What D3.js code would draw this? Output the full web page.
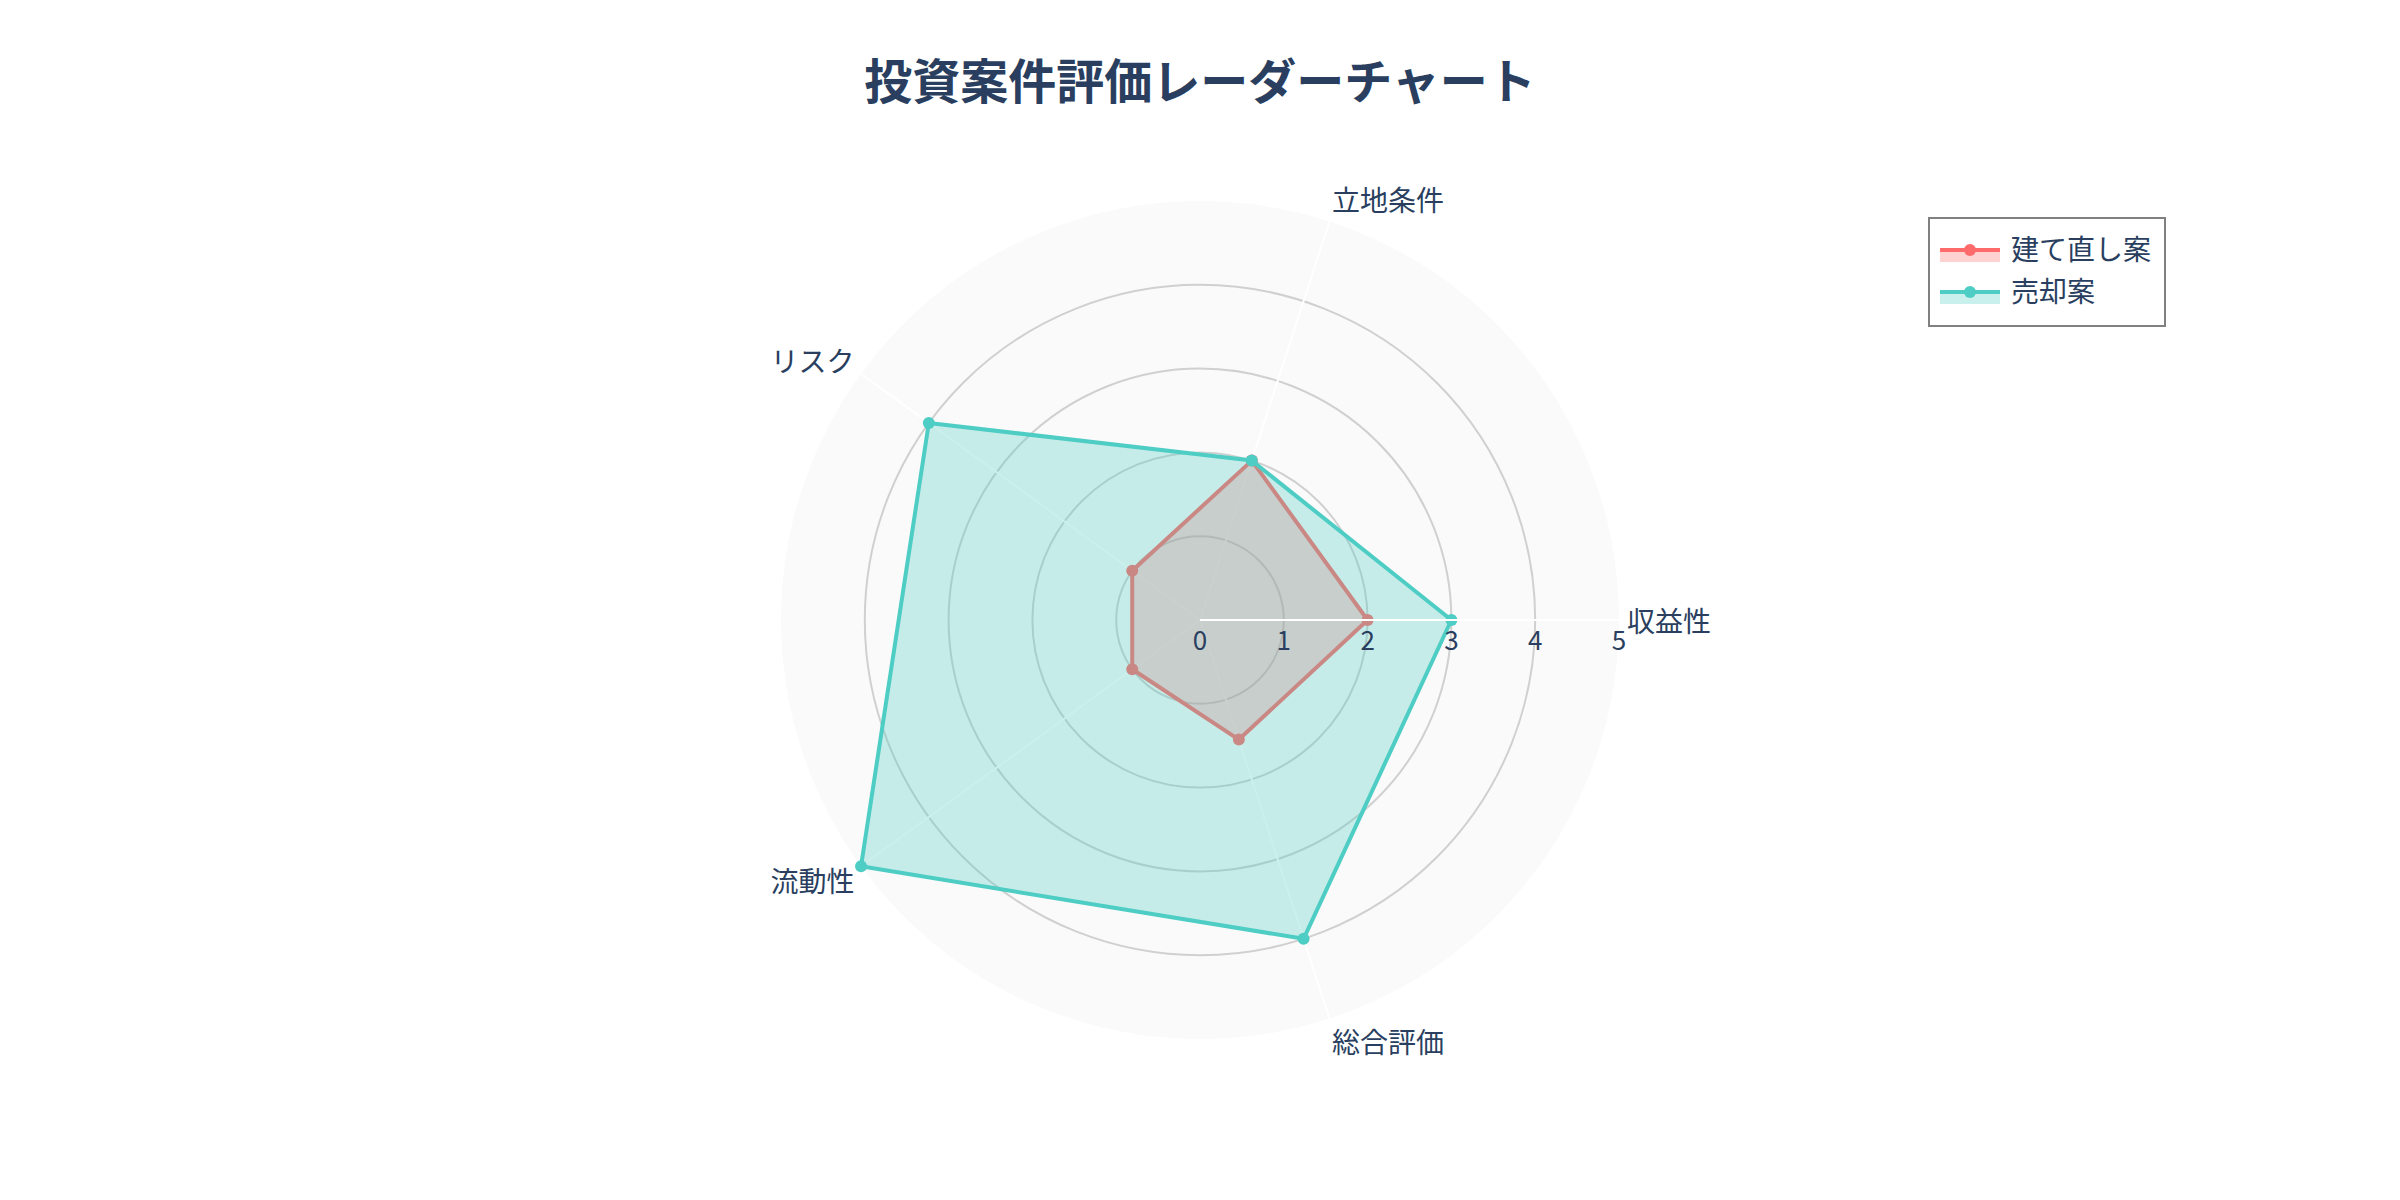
<!DOCTYPE html>
<html>
<head>
<meta charset="utf-8">
<script src="https://cdn.jsdelivr.net/npm/d3@7"></script>
<style>
  body { margin: 0; background: #fff; }
  text { font-family: "Noto Sans CJK JP", "Noto Sans", sans-serif; fill: #2a3f5f; }
</style>
</head>
<body>
<svg id="chart" width="2400" height="1200"></svg>
<script>
// categories round the circle, counterclockwise from the right
var categories = ["収益性", "立地条件", "リスク", "流動性", "総合評価"];
var rebuildValues = [2, 2, 1, 1, 1.5];
var saleValues = [3, 2, 4, 5, 4];
var radialTicks = [0, 1, 2, 3, 4, 5];
var seriesNames = ["建て直し案", "売却案"];

var title = "投資案件評価レーダーチャート";

var width = 2400, height = 1200;
var cx = 1200, cy = 620, R = 419;

var svg = d3.select("#chart");

var series = [
  {name: seriesNames[0], values: rebuildValues, line: "#FF6B6B", fill: "rgba(255,107,107,0.3)"},
  {name: seriesNames[1], values: saleValues, line: "#4ECDC4", fill: "rgba(78,205,196,0.3)"}
];

// radius scale
var r = d3.scaleLinear().domain([0, 5]).range([0, R]);
// angle (counterclockwise from east, radians)
var ang = d3.scaleLinear().domain([0, categories.length]).range([0, 2 * Math.PI]);

function px(i, v) { return cx + r(v) * Math.cos(ang(i)); }
function py(i, v) { return cy - r(v) * Math.sin(ang(i)); }

// title
svg.append("text")
  .attr("x", cx)
  .attr("y", 99)
  .attr("text-anchor", "middle")
  .attr("font-size", 48)
  .attr("font-weight", "bold")
  .text(title);

var g = svg.append("g");

// polar background
g.append("circle")
  .attr("cx", cx).attr("cy", cy).attr("r", r(5))
  .attr("fill", "#fafafa");

// radial grid circles
g.selectAll(".rgrid")
  .data(radialTicks.filter(function(d) { return d > 0 && d < 5; }))
  .enter()
  .append("circle")
  .attr("cx", cx).attr("cy", cy)
  .attr("r", function(d) { return r(d); })
  .attr("fill", "none")
  .attr("stroke", "#d0d0d0")
  .attr("stroke-width", 2);

// angular grid lines
g.selectAll(".agrid")
  .data(categories)
  .enter()
  .append("line")
  .attr("x1", cx).attr("y1", cy)
  .attr("x2", function(d, i) { return px(i, 5); })
  .attr("y2", function(d, i) { return py(i, 5); })
  .attr("stroke", "#ffffff")
  .attr("stroke-width", 2);

// traces
var radialLine = d3.lineRadial()
  .angle(function(d, i) { return Math.PI / 2 - ang(i); })
  .radius(function(d) { return r(d); })
  .curve(d3.curveLinearClosed);

var traces = g.selectAll(".trace")
  .data(series)
  .enter()
  .append("g")
  .attr("transform", "translate(" + cx + "," + cy + ")");

traces.append("path")
  .attr("d", function(d) { return radialLine(d.values); })
  .attr("fill", function(d) { return d.fill; })
  .attr("stroke", function(d) { return d.line; })
  .attr("stroke-width", 4)
  .attr("stroke-linejoin", "round");

traces.selectAll("circle")
  .data(function(d) { return d.values.map(function(v, i) { return {v: v, i: i, c: d.line}; }); })
  .enter()
  .append("circle")
  .attr("cx", function(d) { return px(d.i, d.v) - cx; })
  .attr("cy", function(d) { return py(d.i, d.v) - cy; })
  .attr("r", 6)
  .attr("fill", function(d) { return d.c; });

// radial axis line and tick labels
g.append("line")
  .attr("x1", cx).attr("y1", cy)
  .attr("x2", cx + r(5)).attr("y2", cy)
  .attr("stroke", "#ffffff")
  .attr("stroke-width", 2);

g.selectAll(".rtick")
  .data(radialTicks)
  .enter()
  .append("text")
  .attr("x", function(d) { return cx + r(d); })
  .attr("y", cy + 30)
  .attr("text-anchor", "middle")
  .attr("font-size", 26)
  .text(function(d) { return d; });

// category labels
g.selectAll(".alabel")
  .data(categories)
  .enter()
  .append("text")
  .attr("x", function(d, i) { return px(i, 5) + 8 * Math.cos(ang(i)); })
  .attr("y", function(d, i) { return py(i, 5) - 23.5 * Math.sin(ang(i)) + 12; })
  .attr("text-anchor", function(d, i) {
    var c = Math.cos(ang(i));
    return Math.abs(c) < 0.05 ? "middle" : (c > 0 ? "start" : "end");
  })
  .attr("font-size", 28)
  .text(function(d) { return d; });

// legend
var legend = svg.append("g").attr("transform", "translate(1929,218)");
legend.append("rect")
  .attr("width", 236).attr("height", 108)
  .attr("fill", "#ffffff")
  .attr("stroke", "#808080")
  .attr("stroke-width", 2);

var item = legend.selectAll(".item")
  .data(series)
  .enter()
  .append("g")
  .attr("transform", function(d, i) { return "translate(0," + (32 + i * 42) + ")"; });

item.append("rect")
  .attr("x", 11).attr("y", 0)
  .attr("width", 60).attr("height", 12)
  .attr("fill", function(d) { return d.fill; });
item.append("line")
  .attr("x1", 11).attr("x2", 71)
  .attr("y1", 0).attr("y2", 0)
  .attr("stroke", function(d) { return d.line; })
  .attr("stroke-width", 4);
item.append("circle")
  .attr("cx", 41).attr("cy", 0).attr("r", 6)
  .attr("fill", function(d) { return d.line; });
item.append("text")
  .attr("x", 82).attr("y", 10)
  .attr("font-size", 28)
  .text(function(d) { return d.name; });
</script>
</body>
</html>
